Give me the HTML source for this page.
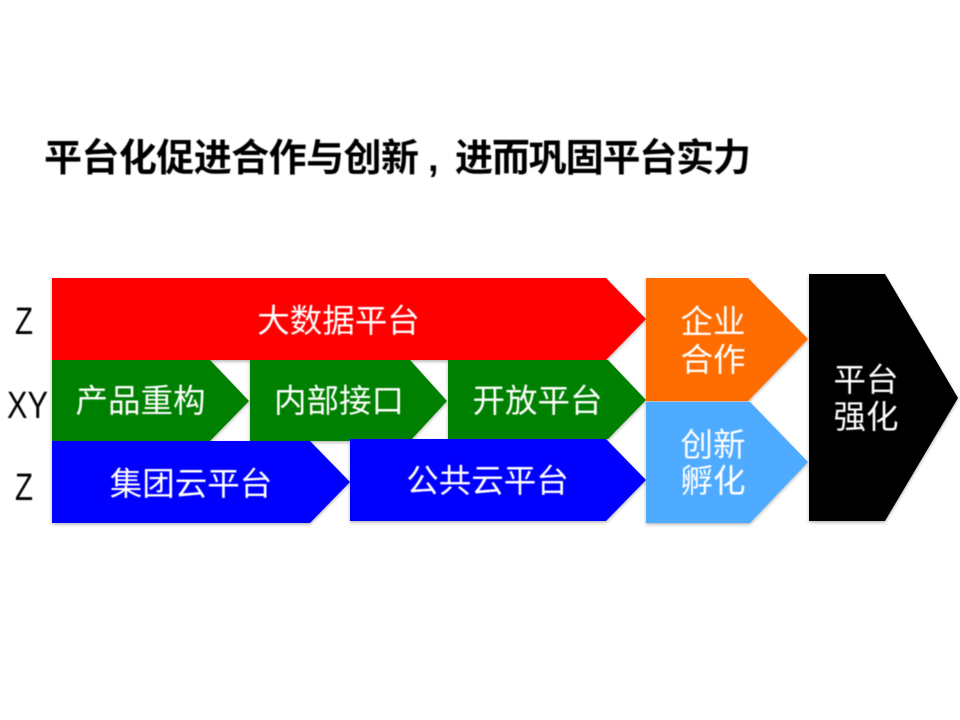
<!DOCTYPE html>
<html lang="zh">
<head>
<meta charset="utf-8">
<title>平台化促进合作与创新,进而巩固平台实力</title>
<style>
html,body{margin:0;padding:0;background:#fff;width:960px;height:720px;overflow:hidden}
svg{display:block}
text{font-family:"Liberation Sans","Noto Sans CJK SC","WenQuanYi Zen Hei",sans-serif}
.w{fill:#fff;font-size:32.5px;text-anchor:middle}
.l{fill:#000;font-size:38px}
.t{fill:#000;font-size:38px;font-weight:700}
</style>
</head>
<body>
<svg width="960" height="720" viewBox="0 0 960 720" xmlns="http://www.w3.org/2000/svg">
<defs>
<filter id="s" x="-5%" y="-5%" width="110%" height="115%">
<feDropShadow dx="0" dy="1.5" stdDeviation="1.5" flood-color="#000" flood-opacity="0.3"/>
</filter>
<filter id="b" x="-5%" y="-20%" width="110%" height="140%">
<feGaussianBlur stdDeviation="0.5"/>
</filter>
</defs>
<g filter="url(#s)">
<polygon fill="#ff0000" points="52,278 606,278 646,319 606,360 52,360"/>
<polygon fill="#0000ff" points="52,441 310,441 350,482 310,523 52,523"/>
<polygon fill="#008000" points="52,360 210,360 249,401 210,441 52,441"/>
<polygon fill="#008000" points="250,360 410,360 447,401 410,441 250,441"/>
<polygon fill="#008000" points="448,360 608,360 646,400 608,439 448,439"/>
<polygon fill="#0000ff" points="350,439 606,439 646,480 606,521 350,521"/>
<polygon fill="#ff6c00" points="646,278 748,278 808,339 748,401 646,401"/>
<polygon fill="#4fabff" points="646,402 750,402 808,462 750,523 646,523"/>
<polygon fill="#000000" points="809,274 885,274 958,398 885,521 809,521"/>
</g>
<g filter="url(#b)">
<text class="t" x="44" y="171" textLength="375" lengthAdjust="spacing">平台化促进合作与创新</text>
<text class="t" x="428" y="171">,</text>
<text class="t" x="455" y="171" textLength="296" lengthAdjust="spacing">进而巩固平台实力</text>
<text class="l" x="15" y="334" textLength="18" lengthAdjust="spacingAndGlyphs">Z</text>
<text class="l" x="7" y="418" textLength="41" lengthAdjust="spacingAndGlyphs">XY</text>
<text class="l" x="15" y="500" textLength="18" lengthAdjust="spacingAndGlyphs">Z</text>
<text class="w" x="338.500" y="332">大数据平台</text>
<text class="w" x="140.500" y="412">产品重构</text>
<text class="w" x="339" y="412">内部接口</text>
<text class="w" x="537.500" y="412">开放平台</text>
<text class="w" x="191" y="495">集团云平台</text>
<text class="w" x="487.500" y="492">公共云平台</text>
<text class="w" x="713" y="333">企业</text>
<text class="w" x="713" y="371">合作</text>
<text class="w" x="713" y="456">创新</text>
<text class="w" x="713" y="492">孵化</text>
<text class="w" x="866" y="391">平台</text>
<text class="w" x="866" y="428">强化</text>
</g>
</svg>
</body>
</html>
